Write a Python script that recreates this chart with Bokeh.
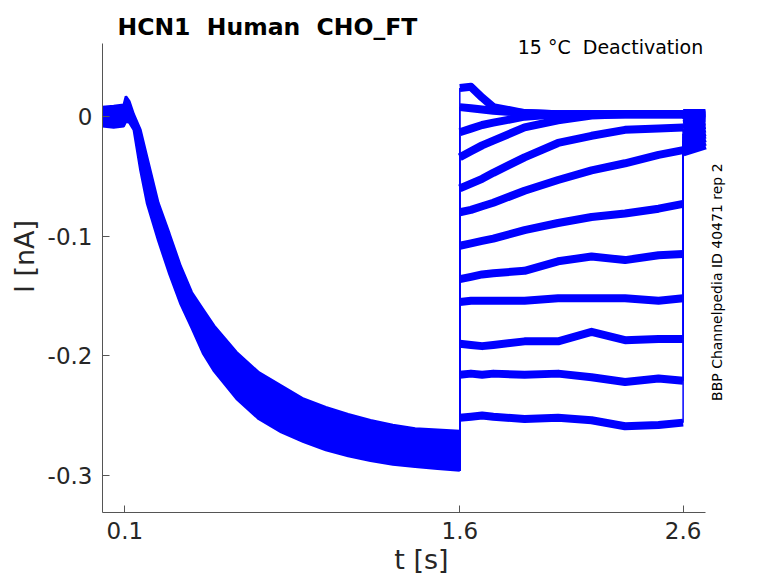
import math
from bokeh.plotting import figure
from bokeh.models import Label, FixedTicker, Range1d
from bokeh.embed import file_html
from bokeh.resources import INLINE

# ---------------- texts ----------------
title_text = "HCN1\u00a0 Human\u00a0 CHO_FT"
cond_text = "15 °C\u00a0 Deactivation"
side_text = "BBP Channelpedia ID 40471 rep 2"
x_label = "t [s]"
y_label = "I [nA]"
x_ticks = [0.1, 1.6, 2.6]
x_tick_labels = ["0.1", "1.6", "2.6"]
y_ticks = [-0.3, -0.2, -0.1, 0]
y_tick_labels = ["-0.3", "-0.2", "-0.1", "0"]

# axis extents drawn (MATLAB-like open box)
x_axis_bounds = (0, 2.7)
y_axis_bounds = (-0.3312, 0.0615)

# ---------------- data ----------------
t_step = 1.6
t_end = 2.6

# activation phase: envelope of the overlapping traces
t_env = [0, 0.05, 0.095, 0.105, 0.12, 0.14, 0.17, 0.2, 0.25, 0.3, 0.35, 0.4, 0.45,
         0.5, 0.6, 0.7, 0.8, 0.9, 1.0, 1.1, 1.2, 1.3, 1.4, 1.5, 1.6]
env_upper = [0.008, 0.009, 0.010, 0.017, 0.013, 0.002, -0.011, -0.034, -0.072, -0.098,
             -0.125, -0.147, -0.161, -0.175, -0.197, -0.214, -0.225, -0.236, -0.243,
             -0.249, -0.254, -0.258, -0.261, -0.262, -0.263]
env_lower = [-0.008, -0.009, -0.008, -0.004, -0.005, -0.011, -0.045, -0.073, -0.104,
             -0.132, -0.157, -0.177, -0.198, -0.213, -0.236, -0.253, -0.264, -0.272,
             -0.279, -0.284, -0.288, -0.291, -0.293, -0.2945, -0.296]

# test pulses (1.6 s .. 2.6 s)
t_post = [1.6, 1.65, 1.7, 1.75, 1.89, 2.04, 2.19, 2.34, 2.49, 2.6]
trace_01 = [-0.252, -0.251, -0.250, -0.251, -0.253, -0.252, -0.254, -0.259, -0.258, -0.256]
trace_02 = [-0.216, -0.215, -0.216, -0.215, -0.216, -0.215, -0.218, -0.222, -0.219, -0.221]
trace_03 = [-0.190, -0.191, -0.192, -0.191, -0.188, -0.188, -0.180, -0.187, -0.186, -0.186]
trace_04 = [-0.155, -0.154, -0.154, -0.154, -0.154, -0.152, -0.152, -0.152, -0.154, -0.152]
trace_05 = [-0.136, -0.134, -0.132, -0.131, -0.129, -0.121, -0.117, -0.120, -0.116, -0.115]
trace_06 = [-0.108, -0.106, -0.104, -0.102, -0.095, -0.089, -0.084, -0.081, -0.077, -0.073]
trace_07 = [-0.080, -0.078, -0.075, -0.072, -0.062, -0.053, -0.045, -0.039, -0.032, -0.028]
trace_08 = [-0.060, -0.056, -0.052, -0.047, -0.034, -0.022, -0.016, -0.011, -0.010, -0.009]
trace_09 = [-0.034, -0.029, -0.024, -0.020, -0.009, -0.003, 0.001, 0.002, 0.002, 0.002]
trace_10 = [-0.013, -0.010, -0.007, -0.005, 0.000, 0.002, 0.002, 0.002, 0.002, 0.002]
trace_11 = [0.008, 0.007, 0.006, 0.005, 0.003, 0.002, 0.002, 0.002, 0.002, 0.002]
trace_12 = [0.024, 0.025, 0.016, 0.008, 0.003, 0.002, 0.002, 0.002, 0.002, 0.002]

# return to holding (2.6 s .. 2.7 s)
t_tail = [2.6, 2.7]
tail_01 = [-0.030, -0.024]
tail_02 = [-0.027, -0.021]
tail_03 = [-0.024, -0.018]
tail_04 = [-0.020, -0.015]
tail_05 = [-0.018, -0.013]
tail_06 = [-0.014, -0.010]
tail_07 = [-0.010, -0.007]
tail_08 = [-0.006, -0.004]
tail_09 = [-0.002, -0.001]
tail_10 = [0.001, 0.001]
tail_11 = [0.002, 0.002]
tail_12 = [0.003, 0.003]

traces = [trace_01, trace_02, trace_03, trace_04, trace_05, trace_06,
          trace_07, trace_08, trace_09, trace_10, trace_11, trace_12]
tails = [tail_01, tail_02, tail_03, tail_04, tail_05, tail_06,
         tail_07, tail_08, tail_09, tail_10, tail_11, tail_12]

# ---------------- styles ----------------
BLUE = "#0000ff"
FONT = "DejaVu Sans"
TXT = "#262626"
AXC = "#555555"

p = figure(frame_width=638, frame_height=512,
           x_range=Range1d(0, 2.857), y_range=Range1d(-0.3312, 0.0972),
           output_backend="svg", toolbar_location=None,
           min_border_left=102, min_border_right=0,
           min_border_top=0, min_border_bottom=70)

p.grid.visible = False
p.outline_line_color = None
p.background_fill_color = "white"
p.border_fill_color = "white"

p.xaxis.ticker = FixedTicker(ticks=x_ticks)
p.yaxis.ticker = FixedTicker(ticks=y_ticks)
p.xaxis.major_label_overrides = dict(zip(x_ticks, x_tick_labels))
p.yaxis.major_label_overrides = dict(zip(y_ticks, y_tick_labels))
p.xaxis.bounds = x_axis_bounds
p.yaxis.bounds = y_axis_bounds
p.xaxis.axis_label = x_label
p.yaxis.axis_label = y_label
for ax in (p.xaxis, p.yaxis):
    ax.major_tick_in = 7
    ax.major_tick_out = 0
    ax.minor_tick_in = 0
    ax.minor_tick_out = 0
    ax.axis_line_color = AXC
    ax.major_tick_line_color = AXC
    ax.major_label_text_font = FONT
    ax.major_label_text_font_size = "23px"
    ax.major_label_text_color = TXT
    ax.axis_label_text_font = FONT
    ax.axis_label_text_font_size = "27px"
    ax.axis_label_text_font_style = "normal"
    ax.axis_label_text_color = TXT
p.xaxis.major_label_standoff = 9
p.xaxis.axis_label_standoff = 2
p.yaxis.major_label_standoff = 10
p.yaxis.axis_label_standoff = 5

# activation band
p.varea(x=t_env, y1=env_lower, y2=env_upper, fill_color=BLUE)
p.line(t_env, env_upper, line_color=BLUE, line_width=2.5)
p.line(t_env, env_lower, line_color=BLUE, line_width=2.5)

# jumps at the voltage steps
p.segment(x0=[t_step] * len(traces), y0=[env_lower[-1]] * len(traces),
          x1=[t_step] * len(traces), y1=[tr[0] for tr in traces],
          line_color=BLUE, line_width=1.5)
p.segment(x0=[t_end] * len(traces), y0=[tr[-1] for tr in traces],
          x1=[t_end] * len(traces), y1=[tl[0] for tl in tails],
          line_color=BLUE, line_width=1.5)

for tr, tl in zip(traces, tails):
    p.line(t_post, tr, line_color=BLUE, line_width=8, line_join="round")
    p.line(t_tail, tl, line_color=BLUE, line_width=8, line_join="round")

# texts
p.add_layout(Label(x=0.067, y=0.0749, text=title_text, text_align="left",
                   text_baseline="alphabetic", text_font=FONT,
                   text_font_size="23.5px", text_font_style="bold",
                   text_color="black"))
p.add_layout(Label(x=2.69, y=0.0582, text=cond_text, text_align="right",
                   text_baseline="alphabetic", text_font=FONT,
                   text_font_size="19px", text_color="black"))
p.add_layout(Label(x=2.751, y=-0.1385, text=side_text, angle=math.pi / 2,
                   text_align="center", text_baseline="middle", text_font=FONT,
                   text_font_size="14px", text_color="black"))

open("out.html", "w").write(file_html(p, INLINE))
